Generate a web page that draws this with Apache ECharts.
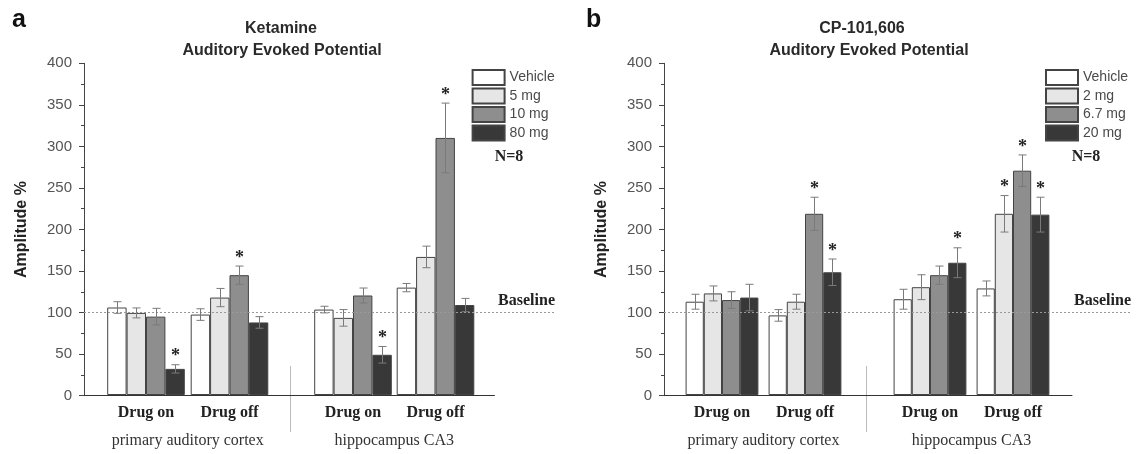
<!DOCTYPE html>
<html>
<head>
<meta charset="utf-8">
<script src="https://cdn.jsdelivr.net/npm/echarts@6/dist/echarts.min.js"></script>
<style>
  html, body { margin: 0; padding: 0; background: #fff; }
  #chart { width: 1137px; height: 454px; }
</style>
</head>
<body>
<div id="chart"></div>
<script>
// categorias: primary cortex (on, off), hippocampus CA3 (on, off)
const groups = ['Drug on', 'Drug off'];
const regions = ['primary auditory cortex', 'hippocampus CA3'];
const yTicks = [0, 50, 100, 150, 200, 250, 300, 350, 400];
const baselineLevel = 100;

// Ketamine
const ketDoses = ['Vehicle', '5 mg', '10 mg', '80 mg'];
const ketVehicle = [105.5, 97, 103, 129.5];
const ket5 = [99, 117.5, 93, 166.5];
const ket10 = [94.5, 144.5, 120, 310];
const ket80 = [31.5, 87.5, 48.5, 108.5];
const ketVehicleErr = [7, 7, 4, 5];
const ket5Err = [6, 11, 10, 13];
const ket10Err = [10, 11, 9, 42];
const ket80Err = [5, 7, 10, 8];
const ketSig = [[0, 0, 0, 0], [0, 0, 0, 0], [0, 1, 0, 1], [1, 0, 1, 0]];

// CP-101,606
const cpDoses = ['Vehicle', '2 mg', '6.7 mg', '20 mg'];
const cpVehicle = [112.5, 96, 115.5, 128.5];
const cp2 = [122.5, 112.5, 130, 218.5];
const cp67 = [114.5, 218.5, 144.5, 270.5];
const cp20 = [117.5, 148, 159.5, 217.5];
const cpVehicleErr = [9, 7, 12, 9];
const cp2Err = [9, 9, 15, 22];
const cp67Err = [10, 20, 11, 19];
const cp20Err = [16, 16, 18, 21];
const cpSig = [[0, 0, 0, 0], [0, 0, 0, 1], [0, 1, 0, 1], [0, 1, 1, 1]];

const fills = ['#ffffff', '#e6e6e6', '#8e8e8e', '#383838'];
const sans = '"Liberation Sans", Arial, sans-serif';
const serif = '"Liberation Serif", "Times New Roman", serif';

const TOP = 63.3, HEIGHT = 332.4;

const grid = [], xAxis = [], yAxis = [], series = [], legend = [];

function hiddenY() {
  return { type: 'value', min: 0, max: 400, show: false };
}

function errorRenderer(barW) {
  return function (params, api) {
    const cat = api.value(0), k = api.value(1), v = api.value(2), e = api.value(3), sig = api.value(4);
    const top = api.coord([cat, v + e]);
    const bot = api.coord([cat, v - e]);
    const x = Math.round(top[0] + (k - 1.5) * barW) + 0.5;
    const cap = 4;
    const style = { stroke: '#7a7a7a', lineWidth: 1 };
    const children = [
      { type: 'line', shape: { x1: x, y1: top[1], x2: x, y2: bot[1] }, style: style },
      { type: 'line', shape: { x1: x - cap, y1: top[1], x2: x + cap, y2: top[1] }, style: style },
      { type: 'line', shape: { x1: x - cap, y1: bot[1], x2: x + cap, y2: bot[1] }, style: style }
    ];
    if (sig) {
      children.push({
        type: 'text',
        style: { text: '*', x: x, y: top[1] - 8, align: 'center', verticalAlign: 'middle',
          font: 'bold 18px ' + serif, fill: '#222' }
      });
    }
    return { type: 'group', children: children };
  };
}

// arma un panel: frame grid, dos grids de barras, grid de baseline
function addPanel(p) {
  const g0 = grid.length;
  // frame con eje y
  grid.push({ left: p.axisX, top: TOP, width: p.axisEnd - p.axisX, height: HEIGHT });
  xAxis.push({ gridIndex: g0, type: 'value', min: 0, max: 1,
    axisLine: { show: true, lineStyle: { color: '#333', width: 1 } },
    axisTick: { show: false }, axisLabel: { show: false }, splitLine: { show: false } });
  yAxis.push({ gridIndex: g0, type: 'value', min: 0, max: 400, interval: 50,
    name: 'Amplitude %', nameLocation: 'middle', nameGap: 54,
    nameTextStyle: { fontFamily: sans, fontSize: 16, fontWeight: 'bold', color: '#222' },
    axisLine: { show: true, lineStyle: { color: '#444' } },
    axisTick: { show: true, length: 5, lineStyle: { color: '#444' } },
    minorTick: { show: true, splitNumber: 2, length: 3, lineStyle: { color: '#444' } },
    axisLabel: { margin: 12, fontFamily: sans, fontSize: 15, color: '#555',
      formatter: function (v) { return yTicks.indexOf(v) >= 0 ? String(v) : ''; } },
    splitLine: { show: false } });

  // barras por region
  for (let r = 0; r < 2; r++) {
    const gi = grid.length;
    const c0 = p.centers[r * 2], c1 = p.centers[r * 2 + 1];
    const w = c1 - c0;
    grid.push({ left: c0 - w / 2, top: TOP, width: 2 * w, height: HEIGHT });
    xAxis.push({ gridIndex: gi, type: 'category', data: groups,
      axisLine: { show: false }, axisTick: { show: false },
      axisLabel: { margin: 10, fontFamily: serif, fontSize: 16, fontWeight: 'bold', color: '#222' },
      name: regions[r], nameLocation: 'middle', nameGap: 38,
      nameTextStyle: { fontFamily: serif, fontSize: 16, color: '#333' } });
    yAxis.push(Object.assign({ gridIndex: gi }, hiddenY()));
    const errData = [];
    p.values.forEach(function (vals, k) {
      series.push({
        type: 'bar', name: p.doses[k], xAxisIndex: gi, yAxisIndex: gi,
        barWidth: p.barW, barGap: '0%',
        itemStyle: { color: fills[k], borderColor: '#444', borderWidth: 1 },
        emphasis: { disabled: true },
        data: vals.slice(r * 2, r * 2 + 2)
      });
      for (let j = 0; j < 2; j++) {
        errData.push([j, k, vals[r * 2 + j], p.errs[k][r * 2 + j], p.sig[k][r * 2 + j]]);
      }
    });
    series.push({
      type: 'custom', xAxisIndex: gi, yAxisIndex: gi, z: 5, silent: true,
      renderItem: errorRenderer(p.barW),
      encode: { x: 0, y: 2 },
      data: errData
    });
  }

  // linea baseline
  const gb = grid.length;
  grid.push({ left: p.axisX, top: TOP, width: p.lineEnd - p.axisX, height: HEIGHT });
  xAxis.push({ gridIndex: gb, type: 'value', min: 0, max: 1, show: false });
  yAxis.push(Object.assign({ gridIndex: gb }, hiddenY()));
  series.push({
    type: 'line', xAxisIndex: gb, yAxisIndex: gb, data: [], silent: true,
    markLine: {
      silent: true, symbol: 'none',
      lineStyle: { type: [2, 2], color: '#999', width: 1 },
      label: { position: 'insideEndTop', distance: [0, 4], formatter: 'Baseline',
        fontFamily: serif, fontSize: 16, fontWeight: 'bold', color: '#222' },
      data: [{ yAxis: baselineLevel }]
    }
  });

  legend.push({
    data: p.doses, orient: 'vertical', left: p.legendX, top: 69, padding: 0,
    itemWidth: 32, itemHeight: 15, itemGap: 1.5, icon: 'rect',
    textStyle: { fontFamily: sans, fontSize: 14, color: '#4a4a4a', lineHeight: 15 },
    selectedMode: false
  });
}

addPanel({
  axisX: 84, axisEnd: 494.5, lineEnd: 555, barW: 19.4, legendX: 471.6,
  centers: [146, 229.5, 353, 435.5],
  doses: ketDoses,
  values: [ketVehicle, ket5, ket10, ket80],
  errs: [ketVehicleErr, ket5Err, ket10Err, ket80Err],
  sig: ketSig
});
addPanel({
  axisX: 664, axisEnd: 1072, lineEnd: 1131, barW: 18.2, legendX: 1045,
  centers: [722, 805, 930, 1013],
  doses: cpDoses,
  values: [cpVehicle, cp2, cp67, cp20],
  errs: [cpVehicleErr, cp2Err, cp67Err, cp20Err],
  sig: cpSig
});

const titleFont = { fontFamily: sans, fontSize: 16, fontWeight: 'bold', color: '#2a2a2a', lineHeight: 16 };
const title = [
  { text: 'a', left: 12, top: 8, padding: 0, textStyle: { fontFamily: sans, fontSize: 25, fontWeight: 'bold', color: '#111' } },
  { text: 'b', left: 586, top: 8, padding: 0, textStyle: { fontFamily: sans, fontSize: 25, fontWeight: 'bold', color: '#111' } },
  { text: 'Ketamine', left: 281, textAlign: 'center', top: 21, padding: 0, textStyle: titleFont },
  { text: 'Auditory Evoked Potential', left: 282, textAlign: 'center', top: 43, padding: 0, textStyle: titleFont },
  { text: 'CP-101,606', left: 862, textAlign: 'center', top: 21, padding: 0, textStyle: titleFont },
  { text: 'Auditory Evoked Potential', left: 869, textAlign: 'center', top: 43, padding: 0, textStyle: titleFont }
];

const graphic = [
  { type: 'line', shape: { x1: 290.5, y1: 366, x2: 290.5, y2: 432 }, style: { stroke: '#bbb', lineWidth: 1 } },
  { type: 'line', shape: { x1: 866.5, y1: 366, x2: 866.5, y2: 432 }, style: { stroke: '#bbb', lineWidth: 1 } },
  { type: 'text', x: 509, y: 157, style: { text: 'N=8', align: 'center', verticalAlign: 'middle',
    font: 'bold 16px ' + serif, fill: '#222' } },
  { type: 'text', x: 1086, y: 157, style: { text: 'N=8', align: 'center', verticalAlign: 'middle',
    font: 'bold 16px ' + serif, fill: '#222' } }
];

const myChart = echarts.init(document.getElementById('chart'), null, { renderer: 'canvas' });
myChart.setOption({
  animation: false,
  backgroundColor: '#fff',
  title: title,
  legend: legend,
  grid: grid,
  xAxis: xAxis,
  yAxis: yAxis,
  graphic: graphic,
  series: series
});
</script>
</body>
</html>
